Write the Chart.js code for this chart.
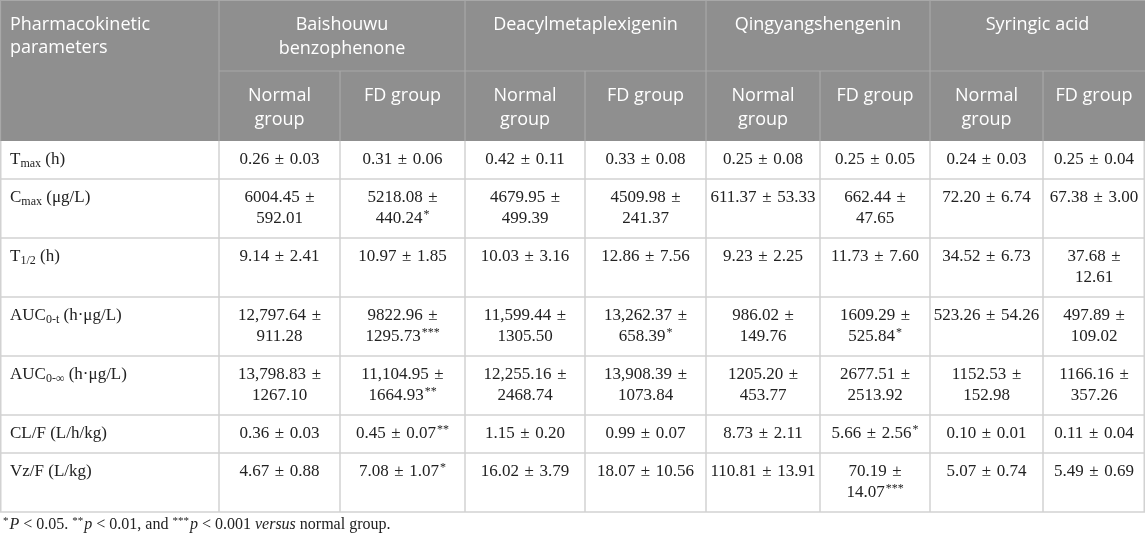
<!DOCTYPE html>
<html>
<head>
<meta charset="utf-8">
<script src="https://cdn.jsdelivr.net/npm/chart.js@4.4.1/dist/chart.umd.min.js"></script>
<style>
  html, body { margin: 0; padding: 0; background: #fff; }
  #wrap { width: 1145px; height: 539px; }
</style>
</head>
<body>
<div id="wrap"><canvas id="pkTable"></canvas></div>
<script>
/* pharmacokinetic parameters table drawn on a chart.js canvas */

// table content
var compounds = ['Baishouwu\nbenzophenone', 'Deacylmetaplexigenin', 'Qingyangshengenin', 'Syringic acid'];
var groups = ['Normal\ngroup', 'FD group'];
var paramName = ['T', 'C', 'T', 'AUC', 'AUC', 'CL/F', 'Vz/F'];
var paramSub = ['max', 'max', '1/2', '0-t', '0-\u221e', '', ''];
var paramUnit = ['(h)', '(\u03bcg/L)', '(h)', '(h\u00b7\u03bcg/L)', '(h\u00b7\u03bcg/L)', '(L/h/kg)', '(L/kg)'];

// one inner array per compound, rows: Tmax, Cmax, T1/2, AUC0-t, AUC0-inf, CL/F, Vz/F
var normalMean = [
  [0.26, 6004.45, 9.14, 12797.64, 13798.83, 0.36, 4.67],
  [0.42, 4679.95, 10.03, 11599.44, 12255.16, 1.15, 16.02],
  [0.25, 611.37, 9.23, 986.02, 1205.20, 8.73, 110.81],
  [0.24, 72.20, 34.52, 523.26, 1152.53, 0.10, 5.07]
];
var normalSD = [
  [0.03, 592.01, 2.41, 911.28, 1267.10, 0.03, 0.88],
  [0.11, 499.39, 3.16, 1305.50, 2468.74, 0.20, 3.79],
  [0.08, 53.33, 2.25, 149.76, 453.77, 2.11, 13.91],
  [0.03, 6.74, 6.73, 54.26, 152.98, 0.01, 0.74]
];
var fdMean = [
  [0.31, 5218.08, 10.97, 9822.96, 11104.95, 0.45, 7.08],
  [0.33, 4509.98, 12.86, 13262.37, 13908.39, 0.99, 18.07],
  [0.25, 662.44, 11.73, 1609.29, 2677.51, 5.66, 70.19],
  [0.25, 67.38, 37.68, 497.89, 1166.16, 0.11, 5.49]
];
var fdSD = [
  [0.06, 440.24, 1.85, 1295.73, 1664.93, 0.07, 1.07],
  [0.08, 241.37, 7.56, 658.39, 1073.84, 0.07, 10.56],
  [0.05, 47.65, 7.60, 525.84, 2513.92, 2.56, 14.07],
  [0.04, 3.00, 12.61, 109.02, 357.26, 0.04, 0.69]
];
// number of asterisks (significance vs normal group)
var fdStars = [
  [0, 1, 0, 3, 2, 2, 1],
  [0, 0, 0, 1, 0, 0, 0],
  [0, 0, 0, 1, 0, 1, 3],
  [0, 0, 0, 0, 0, 0, 0]
];
var footnote = [
  ['*', 'sup'], ['P', 'it'], [' < 0.05. ', ''], ['**', 'sup'], ['p', 'it'], [' < 0.01, and ', ''],
  ['***', 'sup'], ['p', 'it'], [' < 0.001 ', ''], ['versus', 'it'], [' normal group.', '']
];

// layout
var colW = [219, 121, 125, 120, 121, 114, 110, 113, 102];
var headH = [71, 70];
var rowLineH = [38, 59];   // row height for 1 / 2 text lines
var footH = 27;
// cells that break after the "±" sign ("row-col")
var wrapCells = ['1-0', '1-1', '1-2', '1-3', '1-5', '2-7',
  '3-0', '3-1', '3-2', '3-3', '3-4', '3-5', '3-7',
  '4-0', '4-1', '4-2', '4-3', '4-4', '4-5', '4-6', '4-7', '6-5'];

var headFont = '"Open Sans", sans-serif';
var bodyFont = '"Liberation Serif", "Times New Roman", serif';
var headBg = '#8f8f8f', headLine = '#a8a8a8', bodyLine = '#d2d2d2';
var pm = '\u2004\u00b1';   // slightly wider spacing round the plus-minus sign

function fmt(v) {
  if (v >= 10000) return v.toLocaleString('en-US', {minimumFractionDigits: 2, maximumFractionDigits: 2});
  return v.toFixed(2);
}

var colEdge = [0];
colW.forEach(function (w, i) { colEdge.push(colEdge[i] + w); });

// cell texts, column order: compound x group
var cells = [];
for (var c = 0; c < compounds.length; c++) {
  cells.push({mean: normalMean[c], sd: normalSD[c], stars: [0, 0, 0, 0, 0, 0, 0]});
  cells.push({mean: fdMean[c], sd: fdSD[c], stars: fdStars[c]});
}
function cellLines(r, k) {
  var a = fmt(cells[k].mean[r]), b = fmt(cells[k].sd[r]);
  if (wrapCells.indexOf(r + '-' + k) >= 0) return [a + pm, b];
  return [a + pm + '\u2004' + b];
}

var rowTop = [headH[0] + headH[1]];
paramName.forEach(function (p, r) {
  var n = 1;
  for (var k = 0; k < cells.length; k++) n = Math.max(n, cellLines(r, k).length);
  rowTop.push(rowTop[r] + rowLineH[n - 1]);
});
var totalH = rowTop[rowTop.length - 1] + footH;

// one dataset per value column, a point at the top of each cell
var datasets = cells.map(function (cell, k) {
  return {
    label: 'col' + k,
    data: paramName.map(function (p, r) {
      return {x: (colEdge[k + 1] + colEdge[k + 2]) / 2, y: rowTop[r]};
    }),
    pointRadius: 0
  };
});
// row label column
datasets.unshift({
  label: 'params',
  data: paramName.map(function (p, r) { return {x: colEdge[0], y: rowTop[r]}; }),
  pointRadius: 0
});

var tablePlugin = {
  id: 'tablePlugin',
  beforeDatasetsDraw: function (chart) {
    var ctx = chart.ctx, xs = chart.scales.x, ys = chart.scales.y;
    var X = function (v) { return xs.getPixelForValue(v); };
    var Y = function (v) { return ys.getPixelForValue(v); };
    var hb = headH[0] + headH[1];
    var bodyBottom = rowTop[rowTop.length - 1];
    ctx.save();
    // header background
    ctx.fillStyle = headBg;
    ctx.fillRect(X(0), Y(0), X(colEdge[9]) - X(0), Y(hb) - Y(0));
    // header lines
    ctx.strokeStyle = headLine;
    ctx.lineWidth = 1.2;
    ctx.beginPath();
    ctx.moveTo(X(colEdge[1]), Y(headH[0])); ctx.lineTo(X(colEdge[9]), Y(headH[0]));
    for (var i = 1; i < 9; i++) {
      var top = (i % 2 === 1) ? 0 : headH[0];
      ctx.moveTo(X(colEdge[i]), Y(top)); ctx.lineTo(X(colEdge[i]), Y(hb));
    }
    ctx.moveTo(X(0) + 0.5, Y(0)); ctx.lineTo(X(0) + 0.5, Y(hb));
    ctx.moveTo(X(0), Y(0) + 0.5); ctx.lineTo(X(colEdge[9]), Y(0) + 0.5);
    ctx.stroke();
    // body grid
    ctx.strokeStyle = bodyLine;
    ctx.lineWidth = 1.5;
    ctx.beginPath();
    for (var r = 1; r < rowTop.length; r++) {
      ctx.moveTo(X(0), Y(rowTop[r])); ctx.lineTo(X(colEdge[9]), Y(rowTop[r]));
    }
    for (var j = 0; j < colEdge.length; j++) {
      var px = X(colEdge[j]);
      if (j === 0) px += 0.75;
      if (j === colEdge.length - 1) px -= 0.75;
      ctx.moveTo(px, Y(hb)); ctx.lineTo(px, Y(bodyBottom));
    }
    ctx.stroke();

    // header texts
    ctx.fillStyle = '#ffffff';
    ctx.font = '18px ' + headFont;
    ctx.textBaseline = 'middle';
    ctx.textAlign = 'left';
    ctx.fillText('Pharmacokinetic', X(0) + 10, Y(25));
    ctx.fillText('parameters', X(0) + 10, Y(48));
    ctx.textAlign = 'center';
    compounds.forEach(function (name, c) {
      var cx = (X(colEdge[1 + 2 * c]) + X(colEdge[3 + 2 * c])) / 2;
      name.split('\n').forEach(function (ln, li) { ctx.fillText(ln, cx, Y(25 + li * 24)); });
      groups.forEach(function (g, gi) {
        var k = 1 + 2 * c + gi;
        var gx = (X(colEdge[k]) + X(colEdge[k + 1])) / 2;
        g.split('\n').forEach(function (ln, li) { ctx.fillText(ln, gx, Y(96 + li * 24)); });
      });
    });

    // footnote
    var fx = X(0) + 3, fy = Y(bodyBottom + 13);
    ctx.textAlign = 'left';
    ctx.fillStyle = '#222222';
    footnote.forEach(function (seg) {
      var style = seg[1];
      ctx.font = (style === 'it' ? 'italic ' : '') + (style === 'sup' ? '11px ' : '16px ') + bodyFont;
      ctx.fillText(seg[0], fx, style === 'sup' ? fy - 4 : fy);
      fx += ctx.measureText(seg[0]).width + (style === 'sup' ? 1 : 0);
    });
    ctx.restore();
  },
  afterDatasetsDraw: function (chart) {
    var ctx = chart.ctx;
    ctx.save();
    ctx.fillStyle = '#222222';
    ctx.textBaseline = 'middle';
    chart.data.datasets.forEach(function (ds, di) {
      var meta = chart.getDatasetMeta(di);
      meta.data.forEach(function (pt, r) {
        var y0 = pt.y + 19;
        if (di === 0) {
          // parameter label with subscript
          var x = pt.x + 10;
          ctx.textAlign = 'left';
          ctx.font = '17px ' + bodyFont;
          ctx.fillText(paramName[r], x, y0);
          x += ctx.measureText(paramName[r]).width;
          if (paramSub[r]) {
            ctx.font = '12px ' + bodyFont;
            ctx.fillText(paramSub[r], x, y0 + 4);
            x += ctx.measureText(paramSub[r]).width;
          }
          ctx.font = '17px ' + bodyFont;
          ctx.fillText(' ' + paramUnit[r], x, y0);
          return;
        }
        var k = di - 1;
        var lines = cellLines(r, k);
        var stars = '***'.slice(0, cells[k].stars[r]);
        lines.forEach(function (ln, li) {
          var last = li === lines.length - 1;
          ctx.font = '17px ' + bodyFont;
          var w = ctx.measureText(ln).width;
          var sw = 0;
          if (last && stars) {
            ctx.font = '12px ' + bodyFont;
            sw = ctx.measureText(stars).width + 1;
          }
          var sx = pt.x - (w + sw) / 2;
          ctx.textAlign = 'left';
          ctx.font = '17px ' + bodyFont;
          ctx.fillText(ln, sx, y0 + li * 21);
          if (last && stars) {
            ctx.font = '12px ' + bodyFont;
            ctx.fillText(stars, sx + w + 1, y0 + li * 21 - 4);
          }
        });
      });
    });
    ctx.restore();
  }
};

var pkTable = document.getElementById('pkTable');
if (pkTable) {
  new Chart(pkTable, {
    type: 'scatter',
    data: {datasets: datasets},
    options: {
      responsive: true,
      maintainAspectRatio: false,
      animation: false,
      events: [],
      layout: {padding: 0},
      plugins: {legend: {display: false}, tooltip: {enabled: false}},
      scales: {
        x: {type: 'linear', display: false, min: 0, max: colEdge[colEdge.length - 1]},
        y: {type: 'linear', display: false, min: 0, max: totalH, reverse: true}
      }
    },
    plugins: [tablePlugin]
  });
}
</script>
</body>
</html>
